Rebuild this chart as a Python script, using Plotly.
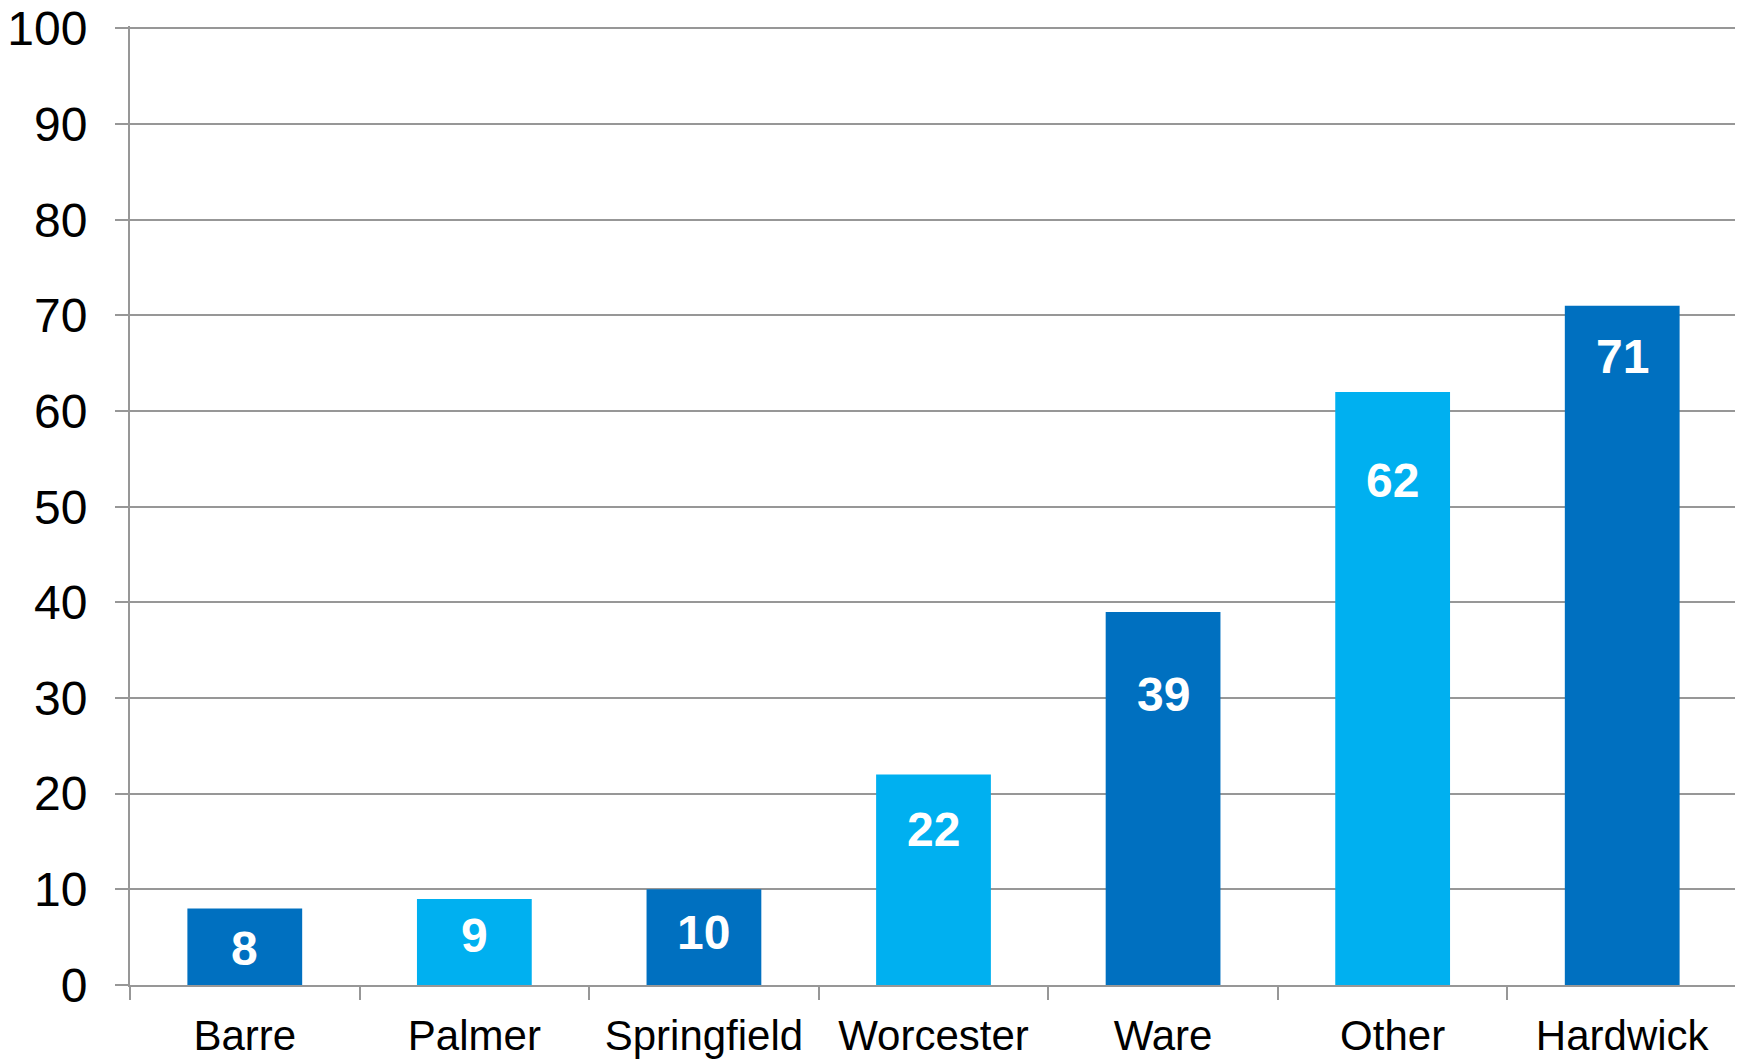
"""Bar chart: counts by town, alternating blue fills with white value labels."""

import plotly.graph_objects as go

towns = ["Barre", "Palmer", "Springfield", "Worcester", "Ware", "Other", "Hardwick"]
counts = [8, 9, 10, 22, 39, 62, 71]
y_ticks = [0, 10, 20, 30, 40, 50, 60, 70, 80, 90, 100]

# Styling: how far (px) each white value label sits below its bar top.
label_drop = [40, 37, 43, 55, 83, 89, 51]

DARK_BLUE = "#0070C0"
LIGHT_BLUE = "#00B0F0"
GRID = "#979797"
FONT = "Liberation Sans, Arial, sans-serif"

bar_colors = [DARK_BLUE if i % 2 == 0 else LIGHT_BLUE for i in range(len(towns))]

fig = go.Figure()

fig.add_trace(
    go.Bar(
        x=towns,
        y=counts,
        marker=dict(color=bar_colors, line=dict(width=0)),
        hovertemplate="%{x}: %{y}<extra></extra>",
        showlegend=False,
    )
)

for town, val, drop in zip(towns, counts, label_drop):
    fig.add_annotation(
        x=town,
        y=val,
        text=str(val),
        showarrow=False,
        yanchor="middle",
        yshift=-drop,
        font=dict(family=FONT, size=48, color="white", weight="bold"),
    )

# The page body has an 8px margin, so the margins below allow for it.
fig.update_layout(
    width=1743,
    height=1059,
    bargap=0.5,
    plot_bgcolor="white",
    paper_bgcolor="white",
    font=dict(family=FONT, color="black"),
    margin=dict(l=122, r=14, t=18, b=82),
    xaxis=dict(
        type="category",
        tickson="boundaries",
        ticks="outside",
        ticklen=13,
        tickwidth=2,
        tickcolor=GRID,
        showline=True,
        linecolor=GRID,
        linewidth=2,
        showgrid=False,
        automargin=False,
        tickfont=dict(size=42, color="black"),
        ticklabelstandoff=13,
    ),
    yaxis=dict(
        range=[0, 100.25],
        tickvals=y_ticks,
        ticks="outside",
        ticklen=13,
        tickwidth=2,
        tickcolor=GRID,
        showline=True,
        linecolor=GRID,
        linewidth=2,
        showgrid=True,
        gridcolor=GRID,
        gridwidth=2,
        zeroline=False,
        automargin=False,
        ticklabeloverflow="allow",
        tickfont=dict(size=48, color="black"),
        ticklabelstandoff=18,
    ),
)

fig.write_html("out.html")
